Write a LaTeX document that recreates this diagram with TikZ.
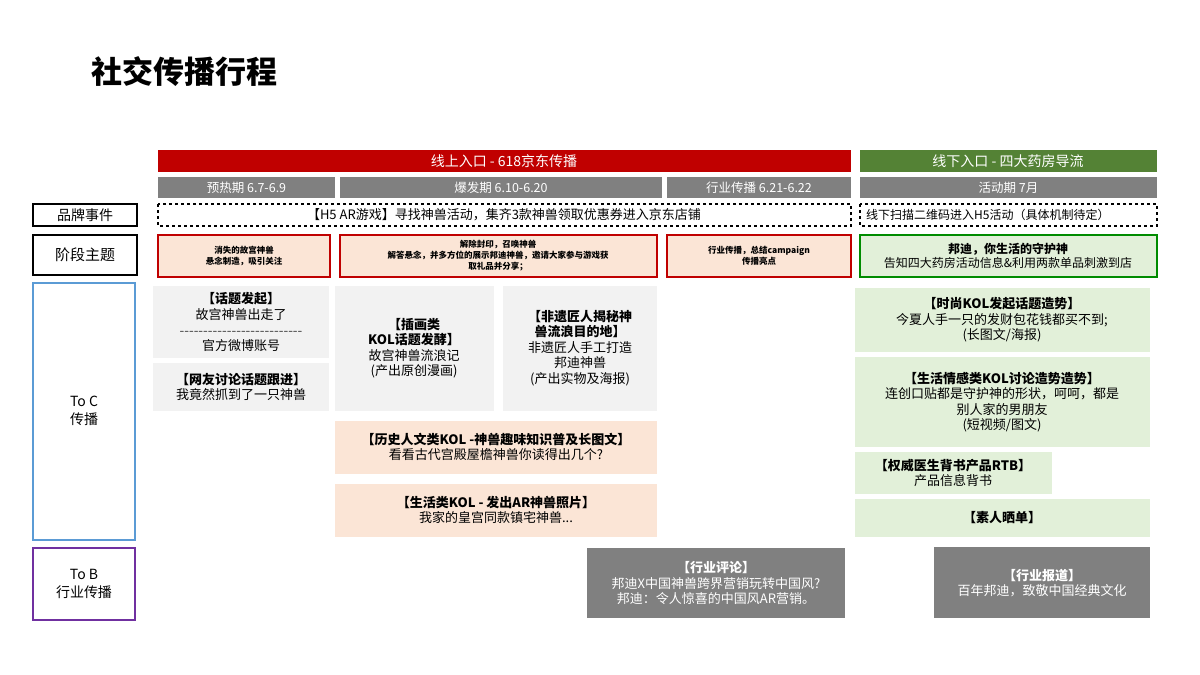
\documentclass[tikz,border=0pt]{standalone}
\usepackage{fontspec}
\setmainfont{Noto Sans CJK SC}
\begin{document}
\begin{tikzpicture}[x=1pt,y=-1pt,
  bx/.style={inner sep=0pt,align=center,font=\fontsize{13}{15.5}\selectfont},
  hdr/.style={bx,text=white,font=\fontsize{14}{15}\selectfont},
  sm/.style={bx,font=\fontsize{8.5}{11}\selectfont\bfseries},
  bd/.style={line width=1.5pt}]
\definecolor{myred}{HTML}{C00000}
\definecolor{mygreen}{HTML}{548235}
\definecolor{mygray}{HTML}{808080}
\definecolor{lgray}{HTML}{F2F2F2}
\definecolor{peach}{HTML}{FBE5D6}
\definecolor{lgreen}{HTML}{E2F0D9}
\definecolor{myblue}{HTML}{5B9BD5}
\definecolor{mypurple}{HTML}{7030A0}
\useasboundingbox (0,0) rectangle (1200,675);
\fill[white] (0,0) rectangle (1200,675);
\node[anchor=west,font=\fontsize{31}{34}\selectfont\bfseries] (title) at (88,72) {社交传播行程};
% header bars
\fill[myred] (158,150) rectangle (851,172);
\node[hdr] (h1) at (504,161) {线上入口 - 618京东传播};
\fill[mygreen] (860,150) rectangle (1157,172);
\node[hdr] (h2) at (1008,161) {线下入口 - 四大药房导流};
\foreach \a/\b/\t/\n in {158/335/预热期 6.7-6.9/p1,340/662/爆发期 6.10-6.20/p2,667/851/行业传播 6.21-6.22/p3,860/1157/活动期 7月/p4}{
  \fill[mygray] (\a,177) rectangle (\b,198);
  \node[hdr,font=\fontsize{12.5}{14}\selectfont] (\n) at ({(\a+\b)/2},187.5) {\t};
}
% row labels
\draw[black,bd] (33,204) rectangle (137,226);
\node[bx,font=\fontsize{14}{16}\selectfont] (r1) at (85,215) {品牌事件};
\draw[black,bd] (33,235) rectangle (137,275);
\node[bx,font=\fontsize{15}{17}\selectfont] (r2) at (85,255) {阶段主题};
\draw[myblue,bd] (33,283) rectangle (135,540);
\node[bx,font=\fontsize{14}{18}\selectfont] (r3) at (84,411) {To C\\传播};
\draw[mypurple,bd] (33,548) rectangle (135,620);
\node[bx,font=\fontsize{14}{18}\selectfont] (r4) at (84,584) {To B\\行业传播};
% brand event dashed
\draw[dashed,bd] (158,204) rectangle (851,226);
\node[bx,font=\fontsize{13}{14}\selectfont] (e1) at (504,215) {【H5 AR游戏】寻找神兽活动，集齐3款神兽领取优惠券进入京东店铺};
\draw[dashed,bd] (860,204) rectangle (1157,226);
\node[bx,font=\fontsize{12}{14}\selectfont,anchor=west] (e2) at (866,215) {线下扫描二维码进入H5活动（具体机制待定）};
% stage themes
\draw[myred,bd,fill=peach] (158,235) rectangle (330,277);
\node[sm] (s1) at (244,256) {消失的故宫神兽\\悬念制造，吸引关注};
\draw[myred,bd,fill=peach] (340,235) rectangle (657,277);
\node[sm] (s2) at (498,256) {解除封印，召唤神兽\\解答悬念，并多方位的展示邦迪神兽，邀请大家参与游戏获\\取礼品并分享；};
\draw[myred,bd,fill=peach] (667,235) rectangle (851,277);
\node[sm] (s3) at (759,256) {行业传播，总结campaign\\传播亮点};
\draw[green!55!black,bd,fill=lgreen] (860,235) rectangle (1157,277);
\node[bx,font=\fontsize{12}{14.5}\selectfont] (s4) at (1008,256) {\textbf{邦迪，你生活的守护神}\\告知四大药房活动信息\&利用两款单品刺激到店};
% To C gray boxes
\fill[lgray] (153,286) rectangle (329,358);
\node[bx] (c1) at (241,322) {\textbf{【话题发起】}\\故宫神兽出走了\\{\fontsize{9}{10}\selectfont\texttt{-{}-{}-{}-{}-{}-{}-{}-{}-{}-{}-{}-{}-{}-{}-{}-{}-{}-{}-{}-{}-{}-{}-{}-{}-{}-}}\\官方微博账号};
\fill[lgray] (153,363) rectangle (329,411);
\node[bx] (c2) at (241,387) {\textbf{【网友讨论话题跟进】}\\我竟然抓到了一只神兽};
\fill[lgray] (335,286) rectangle (494,411);
\node[bx] (c3) at (414,348) {\textbf{【插画类}\\\textbf{KOL话题发酵】}\\故宫神兽流浪记\\(产出原创漫画)};
\fill[lgray] (503,286) rectangle (657,411);
\node[bx] (c4) at (580,348) {\textbf{【非遗匠人揭秘神}\\\textbf{兽流浪目的地】}\\非遗匠人手工打造\\邦迪神兽\\(产出实物及海报)};
\fill[peach] (335,421) rectangle (657,474);
\node[bx] (c5) at (496,447) {\textbf{【历史人文类KOL -神兽趣味知识普及长图文】}\\看看古代宫殿屋檐神兽你读得出几个?};
\fill[peach] (335,484) rectangle (657,537);
\node[bx] (c6) at (496,510) {\textbf{【生活类KOL - 发出AR神兽照片】}\\我家的皇宫同款镇宅神兽...};
\fill[lgreen] (855,288) rectangle (1150,352);
\node[bx] (g1) at (1002,320) {\textbf{【时尚KOL发起话题造势】}\\今夏人手一只的发财包花钱都买不到;\\(长图文/海报)};
\fill[lgreen] (855,357) rectangle (1150,447);
\node[bx] (g2) at (1002,402) {\textbf{【生活情感类KOL讨论造势造势】}\\连创口贴都是守护神的形状，呵呵，都是\\别人家的男朋友\\(短视频/图文)};
\fill[lgreen] (855,452) rectangle (1052,494);
\node[bx] (g3) at (953,473) {\textbf{【权威医生背书产品RTB】}\\产品信息背书};
\fill[lgreen] (855,499) rectangle (1150,537);
\node[bx] (g4) at (1002,518) {\textbf{【素人晒单】}};
% To B
\fill[mygray] (587,548) rectangle (845,618);
\node[bx,text=white] (b1) at (716,583) {\textbf{【行业评论】}\\邦迪X中国神兽跨界营销玩转中国风?\\邦迪：令人惊喜的中国风AR营销。};
\fill[mygray] (934,547) rectangle (1150,618);
\node[bx,text=white] (b2) at (1042,583) {\textbf{【行业报道】}\\百年邦迪，致敬中国经典文化};
\end{tikzpicture}
\end{document}
